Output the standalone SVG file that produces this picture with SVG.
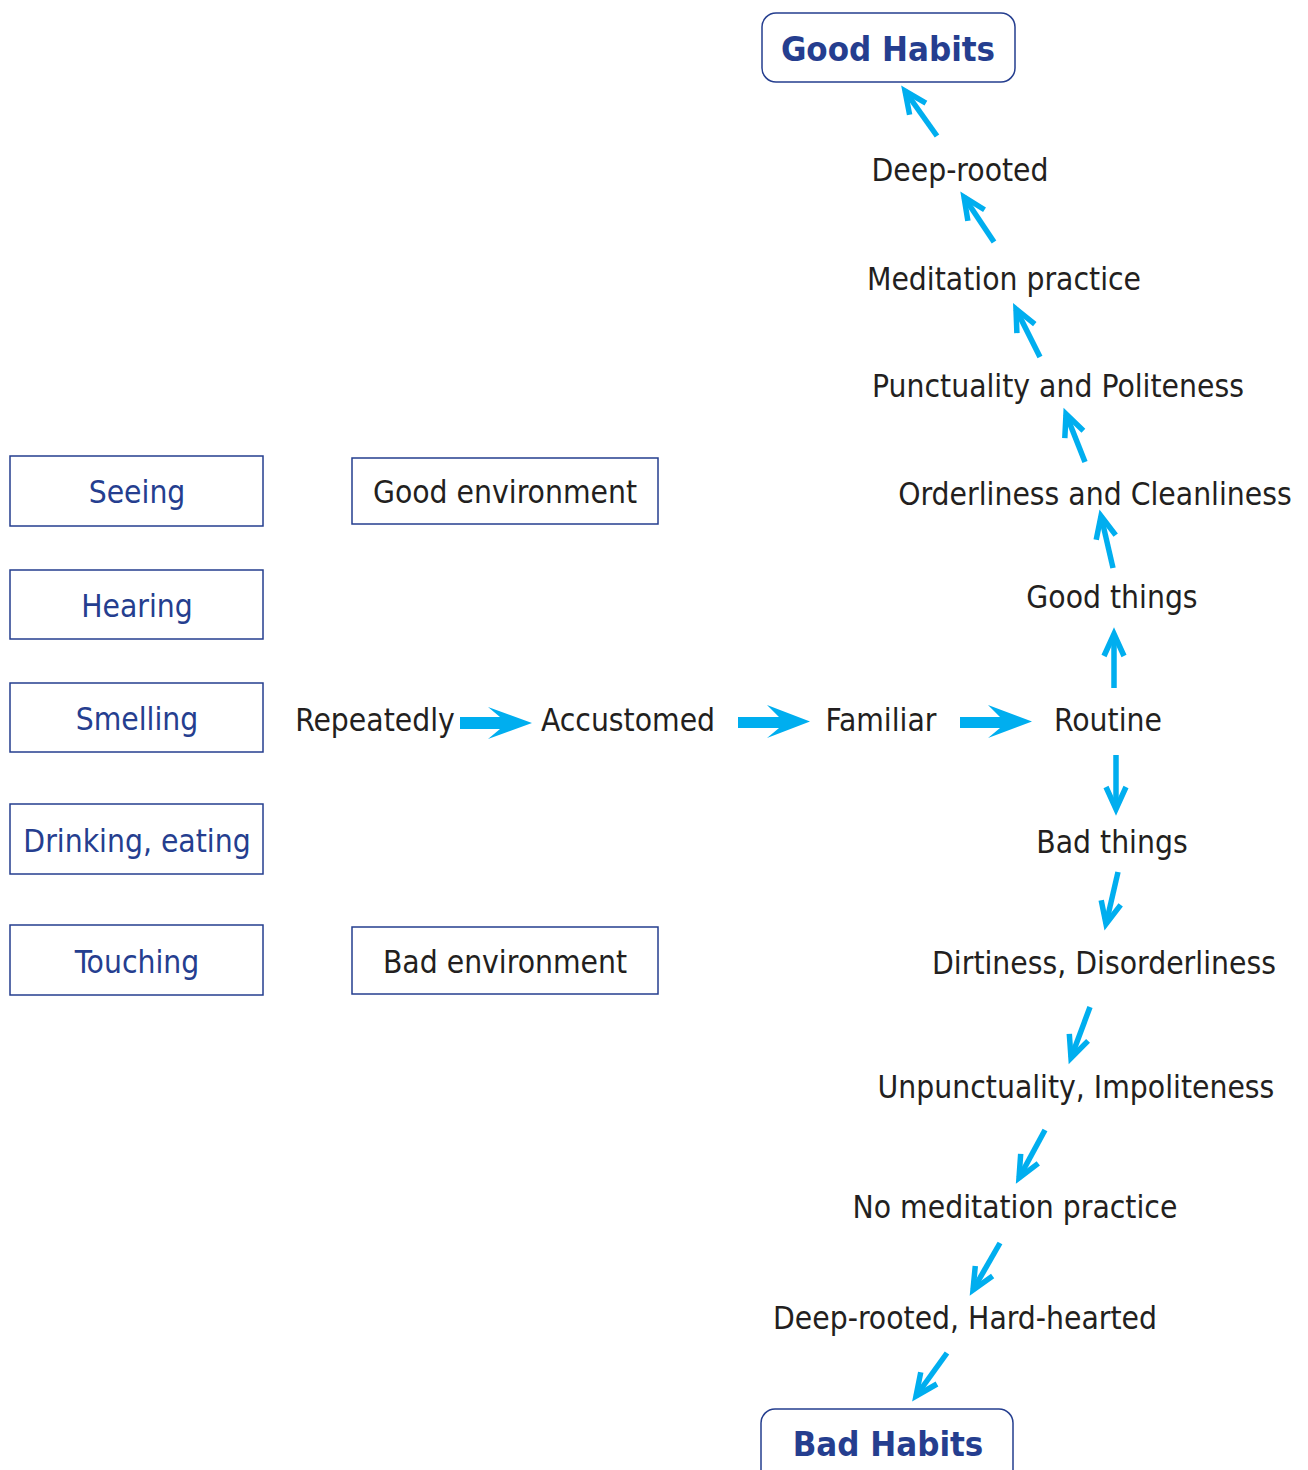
<svg xmlns="http://www.w3.org/2000/svg" width="1308" height="1470" viewBox="0 0 1308 1470">
<style>
  .t { font-family: "DejaVu Sans Condensed", "DejaVu Sans", "Noto Sans", sans-serif; font-size: 31.5px; fill: #231F20; text-anchor: middle; }
  .b { fill: #253E8F; }
  .hb { font-family: "DejaVu Sans Condensed", "DejaVu Sans", sans-serif; font-weight: bold; font-size: 34.5px; fill: #253E8F; text-anchor: middle; }
  .box { fill: #FFFFFF; stroke: #253E8F; stroke-width: 1.5; }
  .ln { stroke: #00AEEF; stroke-width: 5.5; fill: none; }
  .blk { fill: #00AEEF; stroke: none; }
</style>
<defs>
  <marker id="ah" markerUnits="userSpaceOnUse" viewBox="-28 -14 32 28" refX="0" refY="0" markerWidth="32" markerHeight="28" orient="auto" overflow="visible">
    <path d="M -22 -10 L 0 0 L -22 10" fill="none" stroke="#00AEEF" stroke-width="5.5" stroke-linejoin="miter"/>
  </marker>
</defs>
<rect width="1308" height="1470" fill="#FFFFFF"/>

<g id="good-habits">
  <rect class="box" x="762" y="13" width="253" height="69" rx="14"/>
  <text class="hb" x="888" y="61">Good Habits</text>
</g>
<g id="bad-habits">
  <rect class="box" x="761" y="1409" width="252" height="80" rx="14"/>
  <text class="hb" x="888" y="1456">Bad Habits</text>
</g>

<g id="seeing"><rect class="box" x="10" y="456" width="253" height="70"/><text class="t b" x="137" y="503">Seeing</text></g>
<g id="hearing"><rect class="box" x="10" y="570" width="253" height="69"/><text class="t b" x="137" y="617">Hearing</text></g>
<g id="smelling"><rect class="box" x="10" y="683" width="253" height="69"/><text class="t b" x="137" y="730">Smelling</text></g>
<g id="drinking"><rect class="box" x="10" y="804" width="253" height="70"/><text class="t b" x="137" y="852">Drinking, eating</text></g>
<g id="touching"><rect class="box" x="10" y="925" width="253" height="70"/><text class="t b" x="137" y="973">Touching</text></g>

<g id="good-env"><rect class="box" x="352" y="458" width="306" height="66"/><text class="t" x="505" y="503">Good environment</text></g>
<g id="bad-env"><rect class="box" x="352" y="927" width="306" height="67"/><text class="t" x="505" y="973">Bad environment</text></g>

<g id="deep-rooted"><text class="t" x="960" y="181">Deep-rooted</text></g>
<g id="meditation"><text class="t" x="1004" y="290">Meditation practice</text></g>
<g id="punctuality"><text class="t" x="1058" y="397">Punctuality and Politeness</text></g>
<g id="orderliness"><text class="t" x="1095" y="505">Orderliness and Cleanliness</text></g>
<g id="good-things"><text class="t" x="1112" y="608">Good things</text></g>
<g id="repeatedly"><text class="t" x="375" y="731">Repeatedly</text></g>
<g id="accustomed"><text class="t" x="628" y="731">Accustomed</text></g>
<g id="familiar"><text class="t" x="881" y="731">Familiar</text></g>
<g id="routine"><text class="t" x="1108" y="731">Routine</text></g>
<g id="bad-things"><text class="t" x="1112" y="853">Bad things</text></g>
<g id="dirtiness"><text class="t" x="1104" y="974">Dirtiness, Disorderliness</text></g>
<g id="unpunctuality"><text class="t" x="1076" y="1098">Unpunctuality, Impoliteness</text></g>
<g id="no-meditation"><text class="t" x="1015" y="1218">No meditation practice</text></g>
<g id="deep-hard"><text class="t" x="965" y="1329">Deep-rooted, Hard-hearted</text></g>

<g id="connectors">
  <path class="blk" d="M460 717 H500 L488 707 L532 723 L488 739 L500 729 H460 Z"/>
  <path class="blk" d="M738 717 H779 L767 705 L810 721.5 L767 738 L779 728 H738 Z"/>
  <path class="blk" d="M960 717 H1000 L988 705 L1032 721.5 L988 738 L1000 728 H960 Z"/>

  <line class="ln" x1="937" y1="136" x2="905" y2="91" marker-end="url(#ah)"/>
  <line class="ln" x1="994" y1="242" x2="964" y2="197" marker-end="url(#ah)"/>
  <line class="ln" x1="1040" y1="357" x2="1016" y2="309" marker-end="url(#ah)"/>
  <line class="ln" x1="1085" y1="462" x2="1066" y2="414" marker-end="url(#ah)"/>
  <line class="ln" x1="1113" y1="568" x2="1101" y2="516" marker-end="url(#ah)"/>
  <line class="ln" x1="1114" y1="688" x2="1114" y2="634" marker-end="url(#ah)"/>
  <line class="ln" x1="1116" y1="755" x2="1116" y2="809" marker-end="url(#ah)"/>
  <line class="ln" x1="1118" y1="872" x2="1106" y2="924" marker-end="url(#ah)"/>
  <line class="ln" x1="1090" y1="1007" x2="1071" y2="1058" marker-end="url(#ah)"/>
  <line class="ln" x1="1045" y1="1130" x2="1019" y2="1178" marker-end="url(#ah)"/>
  <line class="ln" x1="1000" y1="1243" x2="973" y2="1290" marker-end="url(#ah)"/>
  <line class="ln" x1="947" y1="1353" x2="916" y2="1396" marker-end="url(#ah)"/>
</g>
</svg>
